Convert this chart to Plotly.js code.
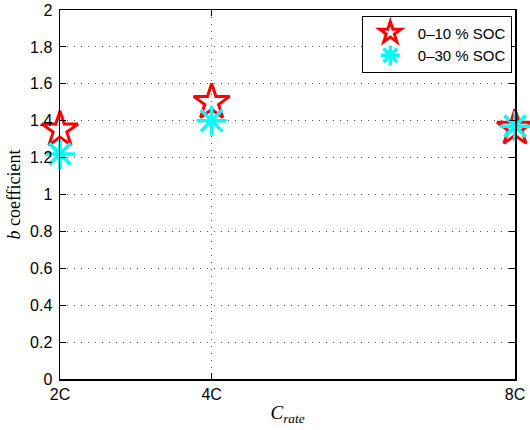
<!DOCTYPE html>
<html>
<head>
<meta charset="utf-8">
<script src="https://cdn.plot.ly/plotly-3.0.1.min.js"></script>
<style>html,body{margin:0;padding:0;background:#fff}#chart{width:530px;height:430px}</style>
</head>
<body>
<div id="chart"></div>
<script>
// C-rate (numeric position) and tick labels
const cRate = [2, 4, 8];
const cRateLabels = ['2C', '4C', '8C'];
// b coefficient per SOC window
const soc10 = [1.35, 1.50, 1.36];
const soc30 = [1.22, 1.40, 1.37];
const seriesNames = ['0\u201310 % SOC', '0\u201330 % SOC'];

const traces = [
  {
    x: cRate, y: soc10, name: seriesNames[0], type: 'scatter', mode: 'markers',
    cliponaxis: false,
    marker: {symbol: 'star-open', size: 27, color: '#ff0000', line: {color: '#ff0000', width: 3}}
  },
  {
    x: cRate, y: soc30, name: seriesNames[1], type: 'scatter', mode: 'markers',
    cliponaxis: false,
    marker: {symbol: 'asterisk-open', size: 25, color: '#00ffff', line: {color: '#00ffff', width: 3.5}}
  }
];

const axisCommon = {
  showline: true, linecolor: '#000', linewidth: 1.5, mirror: 'ticks',
  ticks: 'inside', ticklen: 6, tickcolor: '#000', tickwidth: 1,
  showgrid: true, gridcolor: '#555', griddash: '1px,6px', gridwidth: 1,
  zeroline: false,
  tickfont: {family: 'Arial, "Liberation Sans", sans-serif', size: 16, color: '#000'}
};

const layout = {
  width: 530, height: 430,
  margin: {l: 60, r: 15, t: 10, b: 51},
  paper_bgcolor: '#fff', plot_bgcolor: '#fff',
  showlegend: true,
  legend: {
    x: 0.993, y: 0.985, xanchor: 'right', yanchor: 'top',
    bgcolor: '#fff', bordercolor: '#000', borderwidth: 1,
    font: {family: 'Arial, "Liberation Sans", sans-serif', size: 15, color: '#000'},
    tracegroupgap: 0, itemsizing: 'trace', itemwidth: 45
  },
  xaxis: Object.assign({}, axisCommon, {
    range: [2, 8], tickvals: cRate, ticktext: cRateLabels, ticklabelstandoff: 0,
    title: {text: '<i>C</i><sub><i>rate</i></sub>', standoff: 4,
      font: {family: '"Liberation Serif", "DejaVu Serif", serif', size: 19, color: '#000'}}
  }),
  yaxis: Object.assign({}, axisCommon, {
    range: [0, 2], dtick: 0.2, ticklabelstandoff: 3,
    title: {text: '<i>b</i> coefficient', standoff: 4,
      font: {family: '"Liberation Serif", "DejaVu Serif", serif', size: 18, color: '#000'}}
  })
};

Plotly.newPlot('chart', traces, layout, {displayModeBar: false, staticPlot: true});
</script>
</body>
</html>
